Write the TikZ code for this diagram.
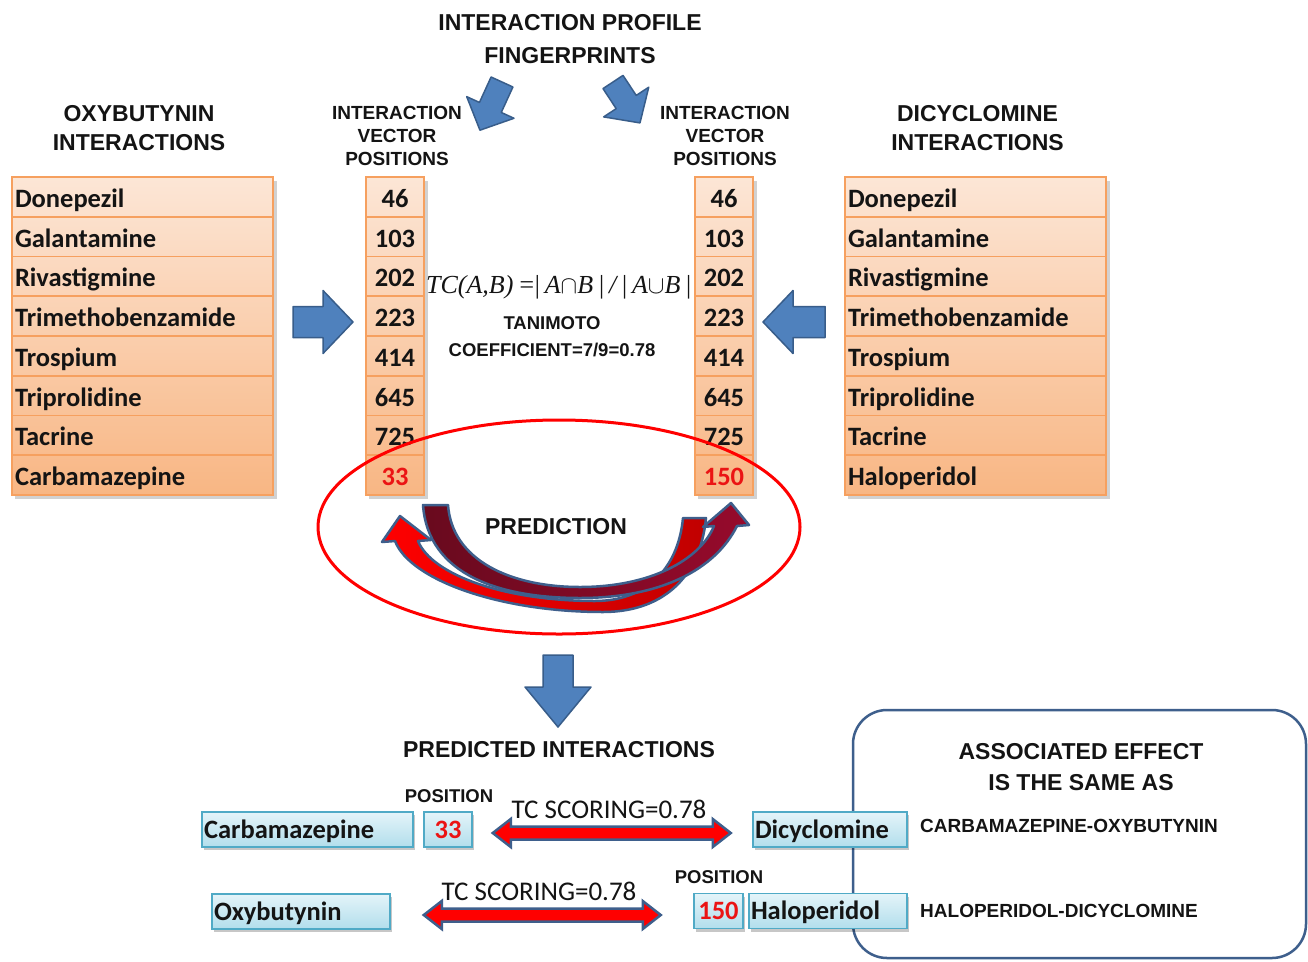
\documentclass[tikz,border=0pt]{standalone}
\usepackage{fontspec}
\setmainfont{Liberation Sans}
\newfontfamily\calf{Carlito}
\newfontfamily\tnrf{Liberation Serif}
\usetikzlibrary{shapes.geometric,calc}
\definecolor{peachT}{RGB}{252,230,214}
\definecolor{peachB}{RGB}{248,180,128}
\definecolor{peachLine}{RGB}{246,160,95}
\definecolor{arrBlue}{RGB}{79,129,189}
\definecolor{arrBlueD}{RGB}{56,93,138}
\definecolor{boxT}{RGB}{228,244,249}
\definecolor{boxB}{RGB}{178,222,236}
\definecolor{boxLine}{RGB}{80,170,198}
\definecolor{outl}{RGB}{62,95,140}
\definecolor{dkred}{RGB}{105,10,30}
\definecolor{dkredB}{RGB}{150,10,44}
\definecolor{rd}{RGB}{255,0,0}
\definecolor{rdB}{RGB}{192,0,0}
\definecolor{txt}{RGB}{20,20,20}
\definecolor{numred}{RGB}{235,20,20}
\tikzset{
  hdr/.style={font=\bfseries\fontsize{23}{29}\selectfont, align=center, text=txt, inner sep=0},
  subhdr/.style={font=\bfseries\fontsize{19}{23}\selectfont, align=center, text=txt, inner sep=0},
  small/.style={font=\bfseries\fontsize{18.5}{27}\selectfont, align=center, text=txt, inner sep=0},
  tcell/.style={draw=peachLine, line width=1.8, minimum width=261, minimum height=39.75,
    text width=255, align=left, inner xsep=3, inner ysep=0, text height=23, text depth=2,
    font=\calf\bfseries\fontsize{26.5}{28}\selectfont, text=txt},
  ncell/.style={draw=peachLine, line width=1.8, minimum width=58, minimum height=39.75,
    align=center, inner sep=0, text height=23, text depth=2,
    font=\calf\bfseries\fontsize{26.5}{28}\selectfont, text=txt},
  bbox/.style={draw=boxLine, line width=1.5, top color=boxT, bottom color=boxB,
    minimum height=35, inner xsep=2, inner ysep=0, text height=19, text depth=2, align=left,
    font=\calf\bfseries\fontsize{26.5}{28}\selectfont, text=txt,
    preaction={fill=black, opacity=.22, transform canvas={xshift=2pt,yshift=-3pt}}},
  barr/.style={fill=arrBlue, draw=arrBlueD, line width=1.5, line join=round},
  dbl/.style={fill=rd, draw=outl, line width=2.5, line join=miter},
  curv/.style={draw=outl, line width=2.5, line join=round},
  pics/barrow/.style args={#1/#2/#3/#4}{code={
    \draw[barr] (0,-#2) -- ({#1-#4},-#2) -- ({#1-#4},-#3) -- (#1,0) -- ({#1-#4},#3) -- ({#1-#4},#2) -- (0,#2) -- cycle;}},
  pics/dblarr/.style={code={
    \draw[dbl] (0,0) -- (18,-14) -- (18,-6.5) -- ({#1-18},-6.5) -- ({#1-18},-14) -- (#1,0)
      -- ({#1-18},14) -- ({#1-18},6.5) -- (18,6.5) -- (18,14) -- cycle;}},
}
\begin{document}
\begin{tikzpicture}[x=1pt,y=-1pt]
\fill[white] (0,0) rectangle (1308,961);
\useasboundingbox (0,0) rectangle (1308,961);

% headers
\node[hdr, font=\bfseries\fontsize{23}{33}\selectfont] (title) at (570,39) {INTERACTION PROFILE\\FINGERPRINTS};
\node[hdr] (oxyh) at (139,128) {OXYBUTYNIN\\INTERACTIONS};
\node[hdr] (dich) at (977.5,128) {DICYCLOMINE\\INTERACTIONS};
\node[subhdr] (ivl) at (397,136) {INTERACTION\\VECTOR\\POSITIONS};
\node[subhdr] (ivr) at (725,136) {INTERACTION\\VECTOR\\POSITIONS};

% top arrows
\pic[rotate=-114.6] at (502,82) {barrow=53/12/26/25};
\pic[rotate=-56.6] at (613,82) {barrow=49/12/27/25};

% table shadows
\fill[black, opacity=.18] (15,181) rectangle (277,499);
\fill[black, opacity=.18] (369,181) rectangle (428,499);
\fill[black, opacity=.18] (698,181) rectangle (757,499);
\fill[black, opacity=.18] (848,181) rectangle (1110,499);

% tables
\foreach \t [count=\i from 0] in {Donepezil,Galantamine,Rivastigmine,Trimethobenzamide,Trospium,Triprolidine,Tacrine,Carbamazepine}{
  \pgfmathtruncatemacro\ca{\i*12}
  \pgfmathtruncatemacro\cb{(\i+1)*12}
  \node[tcell, top color=peachB!\ca!peachT, bottom color=peachB!\cb!peachT] (L\i) at (142.5,{196.875+39.75*\i}) {\t};
}
\foreach \t [count=\i from 0] in {Donepezil,Galantamine,Rivastigmine,Trimethobenzamide,Trospium,Triprolidine,Tacrine,Haloperidol}{
  \pgfmathtruncatemacro\ca{\i*12}
  \pgfmathtruncatemacro\cb{(\i+1)*12}
  \node[tcell, top color=peachB!\ca!peachT, bottom color=peachB!\cb!peachT] (R\i) at (975.5,{196.875+39.75*\i}) {\t};
}
\foreach \t [count=\i from 0] in {46,103,202,223,414,645,725,\textcolor{numred}{33}}{
  \pgfmathtruncatemacro\ca{\i*12}
  \pgfmathtruncatemacro\cb{(\i+1)*12}
  \node[ncell, top color=peachB!\ca!peachT, bottom color=peachB!\cb!peachT] (NL\i) at (395,{196.875+39.75*\i}) {\t};
}
\foreach \t [count=\i from 0] in {46,103,202,223,414,645,725,\textcolor{numred}{150}}{
  \pgfmathtruncatemacro\ca{\i*12}
  \pgfmathtruncatemacro\cb{(\i+1)*12}
  \node[ncell, top color=peachB!\ca!peachT, bottom color=peachB!\cb!peachT] (NR\i) at (724,{196.875+39.75*\i}) {\t};
}

% side arrows
\pic at (293,322) {barrow=60/15.5/31.5/30};
\pic[rotate=180] at (825,322) {barrow=62/15.5/31.5/30};

% formula
\node[inner sep=0, text=txt, font=\tnrf\itshape\fontsize{26}{28}\selectfont] (tc) at (559,287)
  {TC(A,B)\,=\kern-2pt|\,A$\cap$B\,|\,/\,|\,A$\cup$B\,|};
\node[small] (tani) at (552,337) {TANIMOTO\\COEFFICIENT=7/9=0.78};

% prediction ellipse
\node[ellipse, draw=red, line width=3, minimum width=482, minimum height=214, inner sep=0] (ell) at (559,527) {};
\node[hdr] (pred) at (556,527) {PREDICTION};

% curved arrows
\path[curv, left color=rd, right color=rdB]
  (683,518) -- (706,518) .. controls (700,580) and (660,612) .. (603,612)
  .. controls (500,612) and (410,580) .. (395,541) -- (382,542) -- (400,516) -- (431,540) -- (418,541)
  .. controls (432,575) and (505,601) .. (595,601) .. controls (645,601) and (678,570) .. (683,518) -- cycle;
\path[curv, left color=dkred, right color=dkredB]
  (423,505) -- (448,505) .. controls (452,560) and (510,587) .. (580,587)
  .. controls (650,587) and (700,560) .. (714,526) -- (703,527) -- (731,503) -- (749,525) -- (737,526)
  .. controls (715,570) and (660,598) .. (580,598) .. controls (500,598) and (428,575) .. (423,505) -- cycle;

% down arrow
\pic[rotate=-90] at (558,655) {barrow=72/15/33/40};

\node[hdr] (pi) at (559,750) {PREDICTED INTERACTIONS};

% associated effect box
\node[draw=outl, line width=2.5, rounded corners=34, minimum width=453, minimum height=248, inner sep=0] (assoc) at (1079.5,834) {};
\node[hdr, font=\bfseries\fontsize{23}{31}\selectfont] (assoct) at (1081,767) {ASSOCIATED EFFECT\\IS THE SAME AS};

% bottom rows
\node[bbox, text width=207] (cbz) at (307.5,829.5) {Carbamazepine};
\node[bbox, text width=44, align=center] (p33) at (448,829.5) {\textcolor{numred}{33}};
\node[bbox, text width=150] (dic) at (830,829.5) {Dicyclomine};
\node[bbox, text width=174] (oxy) at (301,911.5) {Oxybutynin};
\node[bbox, text width=45, align=center] (p150) at (718.5,911) {\textcolor{numred}{150}};
\node[bbox, text width=154] (hal) at (828,911) {Haloperidol};

\node[small, font=\bfseries\fontsize{18.5}{20}\selectfont] (pos1) at (449,796) {POSITION};
\node[small, font=\bfseries\fontsize{18.5}{20}\selectfont] (pos2) at (719,877) {POSITION};

\pic at ($(p33.east)+(20,3.5)$) {dblarr=238};
\pic at ($(oxy.east)+(33,3.5)$) {dblarr=237};

\node[inner sep=0, text=txt, font=\calf\fontsize{27}{29}\selectfont] (tc1) at (609,809.5) {TC SCORING=0.78};
\node[inner sep=0, text=txt, font=\calf\fontsize{27}{29}\selectfont] (tc2) at (539,891.5) {TC SCORING=0.78};

\node[anchor=west, inner sep=0, text=txt, font=\bfseries\fontsize{19}{21}\selectfont] (co) at (920,826) {CARBAMAZEPINE-OXYBUTYNIN};
\node[anchor=west, inner sep=0, text=txt, font=\bfseries\fontsize{19}{21}\selectfont] (hd) at (920,911) {HALOPERIDOL-DICYCLOMINE};
\end{tikzpicture}
\end{document}
